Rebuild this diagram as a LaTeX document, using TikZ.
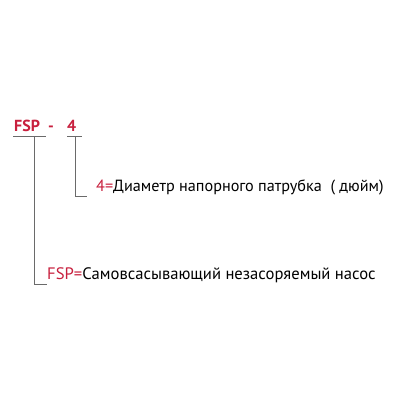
\documentclass[tikz,border=0pt]{standalone}
\usepackage{fontspec}
\setmainfont{PT Sans}
\definecolor{fspred}{HTML}{C8203E}
\definecolor{linegray}{HTML}{6A6A6A}
\begin{document}
\begin{tikzpicture}[x=1pt,y=-1pt,
  lbl/.style={anchor=base west,inner sep=0pt,font=\fontsize{16.2}{17}\selectfont},
  code/.style={anchor=base west,inner sep=0pt,text=fspred,font=\fontsize{16}{17}\selectfont\bfseries},
  conn/.style={draw=linegray,line width=0.9pt}]
\useasboundingbox[fill=white] (0,0) rectangle (400,400);
\node[code] (fsp) at (14,131) {FSP};
\node[code] (dash) at (48,131) {-};
\node[code] (four) at (67,131) {4};
\coordinate (u1a) at (13,136);
\coordinate (u1b) at (46,136);
\coordinate (u2a) at (67,136);
\coordinate (u2b) at (82,136);
\draw[conn] (u1a) -- (u1b);
\draw[conn] (u2a) -- (u2b);
\node[lbl] (l4) at (96,191) {\textcolor{fspred}{4=}Диаметр напорного патрубка \ ( дюйм)};
\node[lbl,font=\fontsize{16.6}{17}\selectfont] (lfsp) at (47,279) {\textcolor{fspred}{FSP=}Самовсасывающий незасоряемый насос};
\coordinate (v2) at (75,136);
\coordinate (v1) at (34,136);
\draw[conn] (v2) |- ([xshift=-9pt,yshift=-5pt]l4.base west);
\draw[conn] (v1) |- ([yshift=-5pt]lfsp.base west);
\end{tikzpicture}
\end{document}
